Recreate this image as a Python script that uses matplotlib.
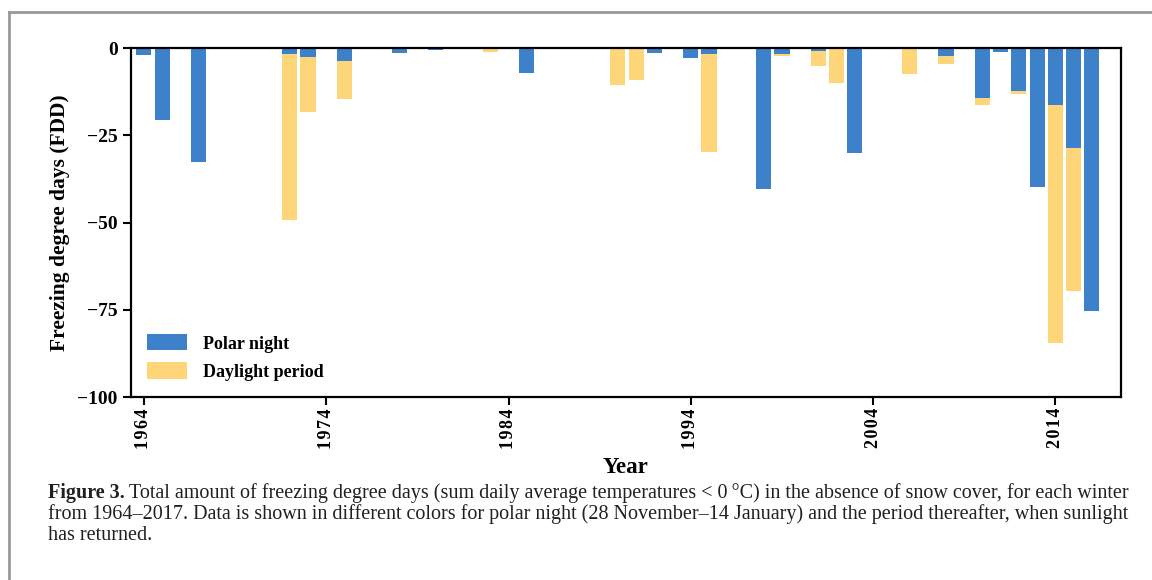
import matplotlib.pyplot as plt
from matplotlib.lines import Line2D

# winters with data (start year)
years = [1964, 1965, 1967, 1972, 1973, 1975, 1978, 1980, 1983, 1985,
         1990, 1991, 1992, 1994, 1995, 1998, 1999, 2001, 2002, 2003,
         2006, 2008, 2010, 2011, 2012, 2013, 2014, 2015, 2016]
# FDD during polar night
polar = [-1.9, -20.7, -32.8, -1.8, -2.6, -3.6, -1.4, -0.5, 0.0, -7.2,
         0.0, 0.0, -1.4, -2.9, -1.8, -40.4, -1.8, -0.9, 0.0, -30.0,
         0.0, -2.3, -14.4, -1.2, -12.4, -39.7, -16.4, -28.6, -75.4]
# FDD during daylight period
daylight = [0.0, 0.0, 0.0, -47.5, -15.6, -11.1, 0.0, 0.0, -1.2, 0.0,
            -10.7, -9.2, 0.0, 0.0, -27.9, 0.0, -0.5, -4.3, -10.1, 0.0,
            -7.5, -2.3, -2.0, 0.0, -0.9, 0.0, -68.0, -41.1, 0.0]
xticks = [1964, 1974, 1984, 1994, 2004, 2014]
yticks = [0, -25, -50, -75, -100]

blue = '#3e81cb'
yellow = '#ffd57a'
serif = 'Liberation Serif'

fig = plt.figure(figsize=(11.52, 5.8), dpi=100)
ax = fig.add_axes([0.1137, 0.3155, 0.8594, 0.6017])

ax.bar(years, polar, width=0.83, color=blue, label='Polar night')
ax.bar(years, daylight, width=0.83, bottom=polar, color=yellow, label='Daylight period')

ax.set_xlim(1963.29, 2017.6)
ax.set_ylim(-100, 0)
ax.set_xticks(xticks)
ax.set_yticks(yticks)
# the original labels are letter-spaced
ax.set_xticklabels(['\u200a'.join(str(y)) for y in xticks], rotation=90, fontfamily=serif,
                   fontweight='bold', fontsize=13)
ax.set_yticklabels(['0', '\u221225', '\u221250', '\u221275', '\u2212100'],
                   fontfamily=serif, fontweight='bold', fontsize=14)
ax.tick_params(axis='both', direction='out', length=6, width=1.5, colors='black')
ax.tick_params(axis='x', pad=2)
for s in ax.spines.values():
    s.set_linewidth(1.6)
    s.set_color('black')

ax.set_xlabel('Year', fontfamily=serif, fontweight='bold', fontsize=16.5, labelpad=6)
ax.set_ylabel('Freezing degree days (FDD)', fontfamily=serif, fontweight='bold',
              fontsize=15.5, labelpad=5)

leg = ax.legend(loc='lower left', bbox_to_anchor=(0.0, 0.0), frameon=False,
                prop={'family': serif, 'weight': 'bold', 'size': 13},
                handlelength=2.2, handleheight=1.0, handletextpad=0.9,
                labelspacing=0.55)

# page frame lines (left and top)
fig.add_artist(Line2D([9 / 1152, 9 / 1152], [0, 1 - 12 / 580], color='#999999', lw=2))
fig.add_artist(Line2D([9 / 1152, 1], [1 - 12 / 580, 1 - 12 / 580], color='#999999', lw=2))

# caption
cap_size = 14.5
x0 = 48 / 1152
lines = ['Total amount of freezing degree days (sum daily average temperatures < 0\u2009\u00b0C) in the absence of snow cover, for each winter',
         'from 1964\u20132017. Data is shown in different colors for polar night (28 November\u201314 January) and the period thereafter, when sunlight',
         'has returned.']
ys = [1 - 498 / 580, 1 - 519 / 580, 1 - 540 / 580]
t = fig.text(x0, ys[0], 'Figure 3.', fontfamily=serif, fontweight='bold',
             fontsize=cap_size, color='#231f20', va='baseline')
fig.canvas.draw()
r = fig.canvas.get_renderer()
bb = t.get_window_extent(renderer=r)
fig.text((bb.x1 + 4) / 1152, ys[0], lines[0], fontfamily=serif, fontsize=cap_size,
         color='#231f20', va='baseline')
fig.text(x0, ys[1], lines[1], fontfamily=serif, fontsize=cap_size, color='#231f20', va='baseline')
fig.text(x0, ys[2], lines[2], fontfamily=serif, fontsize=cap_size, color='#231f20', va='baseline')

fig.savefig('out.png', dpi=100)
